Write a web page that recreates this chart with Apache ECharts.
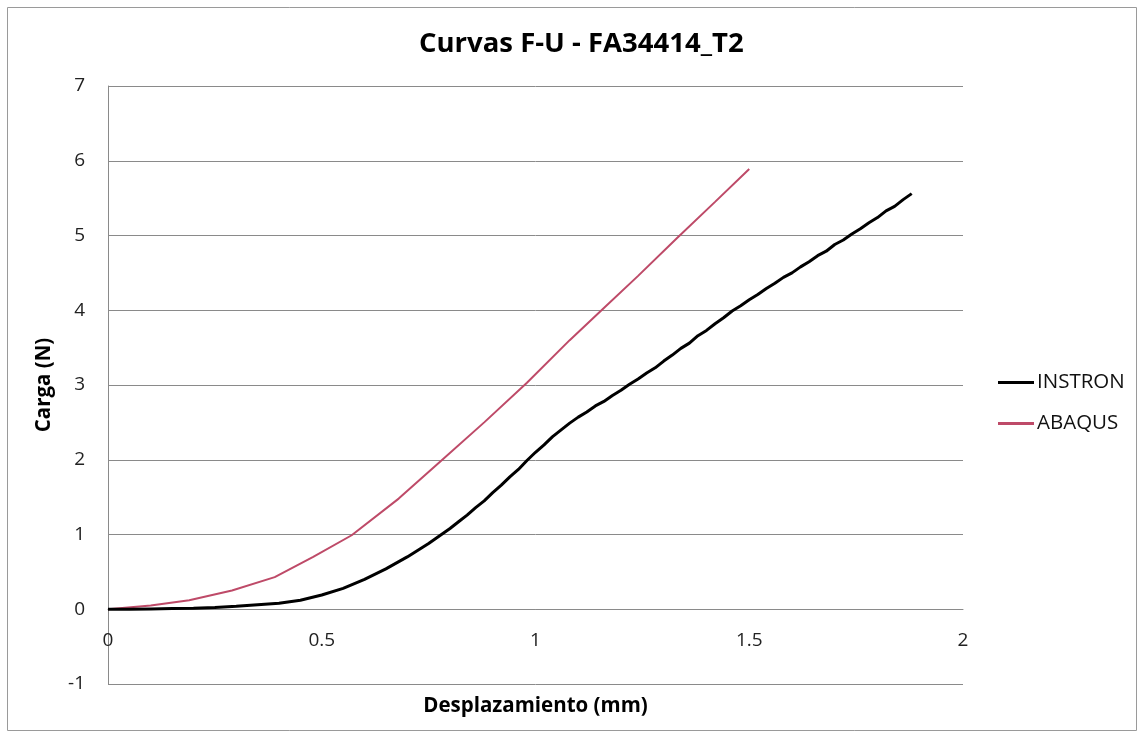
<!DOCTYPE html>
<html>
<head>
<meta charset="utf-8">
<script src="https://cdn.jsdelivr.net/npm/echarts@6/dist/echarts.min.js"></script>
<style>
  html, body { margin: 0; padding: 0; background: #fff; }
  #chart { width: 1140px; height: 736px; }
</style>
</head>
<body>
<div id="chart"></div>
<script>
// Force–displacement curves for specimen FA34414_T2
const seriesNames = ['INSTRON', 'ABAQUS'];

// Measured curve (testing machine)
const instronX = [0, 0.05, 0.1, 0.15, 0.2, 0.25, 0.3, 0.35, 0.4, 0.45, 0.5, 0.55, 0.6, 0.65, 0.7, 0.75, 0.8,
  0.82, 0.84, 0.86, 0.88, 0.9, 0.92, 0.94, 0.96, 0.98, 1.0, 1.02, 1.04, 1.06, 1.08, 1.1, 1.12, 1.14, 1.16, 1.18,
  1.2, 1.22, 1.24, 1.26, 1.28, 1.3, 1.32, 1.34, 1.36, 1.38, 1.4, 1.42, 1.44, 1.46, 1.48, 1.5, 1.52, 1.54, 1.56,
  1.58, 1.6, 1.62, 1.64, 1.66, 1.68, 1.7, 1.72, 1.74, 1.76, 1.78, 1.8, 1.82, 1.84, 1.86, 1.88];
const instronY = [0, 0.0, 0.005, 0.01, 0.015, 0.025, 0.04, 0.06, 0.08, 0.12, 0.19, 0.28, 0.40, 0.54, 0.70, 0.88, 1.08,
  1.17, 1.26, 1.36, 1.45, 1.56, 1.66, 1.77, 1.87, 1.99, 2.10, 2.20, 2.31, 2.40, 2.49, 2.57, 2.64, 2.72, 2.78, 2.86,
  2.93, 3.01, 3.08, 3.16, 3.23, 3.32, 3.40, 3.49, 3.56, 3.66, 3.73, 3.82, 3.90, 3.99, 4.06, 4.14, 4.21, 4.29, 4.36,
  4.44, 4.50, 4.58, 4.65, 4.73, 4.79, 4.88, 4.94, 5.02, 5.09, 5.17, 5.24, 5.33, 5.39, 5.48, 5.56];

// Finite-element model curve
const abaqusX = [0, 0.1, 0.19, 0.29, 0.39, 0.48, 0.57, 0.68, 0.78, 0.88, 0.98, 1.08, 1.16, 1.24, 1.33, 1.42, 1.5];
const abaqusY = [0, 0.05, 0.12, 0.25, 0.43, 0.70, 0.99, 1.48, 1.99, 2.50, 3.03, 3.60, 4.03, 4.46, 4.96, 5.45, 5.89];

const xTicks = { min: 0, max: 2, step: 0.5 };
const yTicks = { min: -1, max: 7, step: 1 };

const pairs = (xs, ys) => xs.map((x, i) => [x, ys[i]]);

const FONT = '"Open Sans", "Noto Sans", sans-serif';
const GRID = { left: 108, right: 177, top: 86, bottom: 52 };
const plotHeight = 736 - GRID.top - GRID.bottom;
// distance from the bottom edge of the plot up to the zero line
const zeroOffset = plotHeight * (0 - yTicks.min) / (yTicks.max - yTicks.min);

const chart = echarts.init(document.getElementById('chart'), null, { renderer: 'canvas' });

chart.setOption({
  backgroundColor: '#ffffff',
  animation: false,
  title: {
    text: 'Curvas F-U - FA34414_T2',
    left: 414,
    top: 25,
    textStyle: { fontFamily: FONT, fontWeight: 'bold', fontSize: 27.5, color: '#000' }
  },
  legend: {
    orient: 'vertical',
    left: 993,
    top: 367,
    itemWidth: 36,
    itemHeight: 3,
    itemGap: 20,
    icon: 'rect',
    textStyle: { fontFamily: FONT, fontSize: 20.5, color: '#111', padding: [0, 0, 0, -2] },
    data: seriesNames
  },
  grid: Object.assign({ containLabel: false, outerBoundsMode: 'none' }, GRID),
  xAxis: {
    type: 'value',
    position: 'bottom',
    offset: -zeroOffset,
    min: xTicks.min, max: xTicks.max, interval: xTicks.step,
    name: 'Desplazamiento (mm)',
    nameLocation: 'middle',
    nameGap: 86,
    nameTextStyle: { fontFamily: FONT, fontWeight: 'bold', fontSize: 20.5, color: '#000' },
    axisLine: { show: true, onZero: false, lineStyle: { color: '#8a8a8a', width: 1 } },
    axisTick: { show: false },
    axisLabel: { fontFamily: FONT, fontSize: 19, color: '#222', margin: 22 },
    splitLine: { show: false }
  },
  yAxis: {
    type: 'value',
    min: yTicks.min, max: yTicks.max, interval: yTicks.step,
    name: 'Carga (N)',
    nameLocation: 'middle',
    nameGap: 53,
    nameRotate: 90,
    nameTextStyle: { fontFamily: FONT, fontWeight: 'bold', fontSize: 20.5, color: '#000' },
    axisLine: { show: true, onZero: false, lineStyle: { color: '#8a8a8a', width: 1 } },
    axisTick: { show: false },
    axisLabel: { fontFamily: FONT, fontSize: 19, color: '#222', margin: 23 },
    splitLine: { show: true, lineStyle: { color: '#8a8a8a', width: 1 } }
  },
  series: [
    {
      name: seriesNames[0],
      type: 'line',
      data: pairs(instronX, instronY),
      showSymbol: false,
      symbol: 'none',
      lineStyle: { color: '#000000', width: 3 },
      itemStyle: { color: '#000000' },
      z: 3
    },
    {
      name: seriesNames[1],
      type: 'line',
      data: pairs(abaqusX, abaqusY),
      showSymbol: false,
      symbol: 'none',
      lineStyle: { color: '#be4a68', width: 2 },
      itemStyle: { color: '#be4a68' },
      z: 2
    }
  ],
  graphic: [
    {
      type: 'rect',
      shape: { x: 7.5, y: 7.5, width: 1129, height: 723 },
      style: { fill: 'none', stroke: '#9a9a9a', lineWidth: 1 },
      silent: true
    }
  ]
});
</script>
</body>
</html>
